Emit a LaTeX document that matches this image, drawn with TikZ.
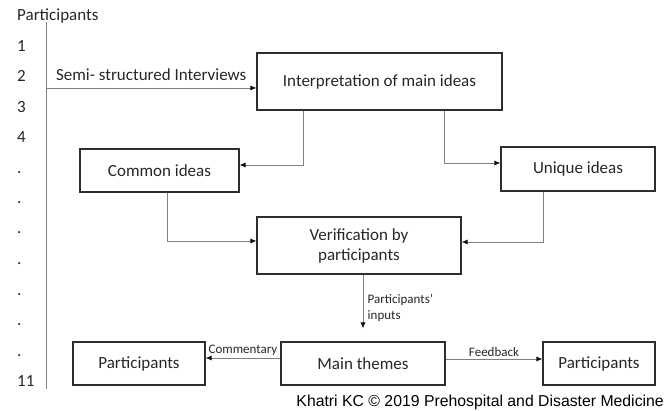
\documentclass[tikz,border=0pt]{standalone}
\usepackage{fontspec}
\setmainfont{Carlito}
\newfontfamily\creditfont{Liberation Sans}
\usetikzlibrary{arrows.meta}

\begin{document}
\begin{tikzpicture}[x=1pt, y=-1pt,
    box/.style={draw=BoxGray, line width=1.1pt, text=TextGray, inner sep=0pt,
        align=center, font=\fontsize{17}{20}\selectfont},
    link/.style={draw=LineGray, line width=0.8pt,
        -{Latex[length=6pt,width=5pt,color=TipBlack]}},
    small/.style={text=TextGray, font=\fontsize{13}{16}\selectfont}]
\definecolor{BoxGray}{HTML}{2E2E2E};
\definecolor{LineGray}{HTML}{808080};
\definecolor{TextGray}{HTML}{262626};
\definecolor{TipBlack}{HTML}{111111};

\useasboundingbox (0,0) rectangle (667,411);

% participants axis
\coordinate (axistop) at (46,22);
\coordinate (axisbot) at (46,389);
\coordinate (axisarrow) at (46,88);
\draw[LineGray, line width=0.8pt] (axistop) -- (axisbot);
\node[anchor=base west, text=TextGray, font=\fontsize{17}{20}\selectfont, inner sep=0pt]
    (head) at (17,21) {Participants};
\foreach \lab/\ypos [count=\k] in {1/52, 2/82, 3/113, 4/143, ./174, ./204, ./234,
        ./265, ./296, ./326, ./357, 11/387}
    \node[anchor=base west, text=TextGray, font=\fontsize{17}{20}\selectfont, inner sep=0pt]
        (num\k) at (17,\ypos) {\lab};

% boxes
\node[box, minimum width=245pt, minimum height=57pt] (interp) at (379.5,81.5)
    {Interpretation of main ideas};
\node[box, minimum width=159pt, minimum height=43pt] (common) at (159.5,170.5)
    {Common ideas};
\node[box, minimum width=154pt, minimum height=44pt] (unique) at (578,169)
    {Unique ideas};
\node[box, minimum width=204pt, minimum height=57pt] (verify) at (359,245.5)
    {Verification by\\participants};
\node[box, minimum width=164pt, minimum height=43pt] (themes) at (363,363.5)
    {Main themes};
\node[box, minimum width=132pt, minimum height=43pt] (partleft) at (139,363.5)
    {Participants};
\node[box, minimum width=112pt, minimum height=43pt] (partright) at (599,363.5)
    {Participants};

% connectors
\draw[link] (axisarrow) -- node[above=4pt, text=TextGray, font=\fontsize{17}{20}\selectfont]
    {Semi- structured Interviews} (axisarrow -| interp.west);
\draw[link] ([xshift=-76.5pt]interp.south) |- ([yshift=5.5pt]common.east);
\draw[link] ([xshift=64.5pt]interp.south) |- ([yshift=6pt]unique.west);
\draw[link] ([xshift=7.5pt]common.south) |- ([yshift=4.5pt]verify.west);
\draw[link] ([xshift=-35pt]unique.south) |- ([yshift=3.5pt]verify.east);
\draw[link, shorten >=13pt] (verify.south -| themes.north) -- node[small, right=1pt, align=left]
    {Participants'\\inputs} (themes.north);
\draw[link] ([yshift=5.5pt]themes.west) -- node[small, above=-1pt]
    {Commentary} ([yshift=5.5pt]themes.west -| partleft.east);
\draw[link] ([yshift=4.5pt]themes.east) -- node[small, above=-1pt]
    {Feedback} ([yshift=4.5pt]themes.east -| partright.west);

% credit
\node[anchor=base east, inner sep=0pt, font=\creditfont\fontsize{15.8}{18}\selectfont]
    (credit) at (664,407) {Khatri KC © 2019 Prehospital and Disaster Medicine};
\end{tikzpicture}
\end{document}
